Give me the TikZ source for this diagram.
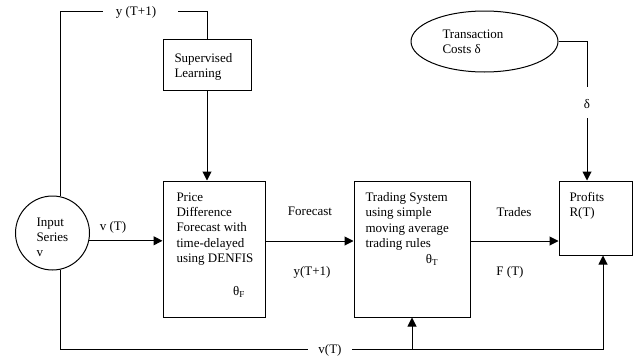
\documentclass[tikz,border=0pt]{standalone}
\usepackage{fontspec}
\setmainfont{Liberation Serif}
\usetikzlibrary{arrows.meta,shapes.geometric}
\begin{document}
\begin{tikzpicture}[x=1pt,y=-1pt,
  line width=1pt,
  box/.style={draw,rectangle,inner sep=0pt},
  txt/.style={inner sep=0pt,anchor=north west,align=left,font=\fontsize{13}{15.3}\selectfont},
  lbl/.style={inner sep=0pt,font=\fontsize{13}{15.3}\selectfont},
  arr/.style={-{Triangle[length=9pt,width=9pt]}}]
\useasboundingbox (0,0) rectangle (634,356);
% shapes
\node[draw,circle,minimum size=74pt,inner sep=0pt] (inp) at (52.5,233) {};
\node[box,minimum width=88pt,minimum height=51pt] (sup) at (207,64.5) {};
\node[box,minimum width=102pt,minimum height=136pt] (price) at (214,249) {};
\node[box,minimum width=116pt,minimum height=136pt] (trade) at (412,249) {};
\node[box,minimum width=73pt,minimum height=74pt] (prof) at (595.5,218) {};
\node[draw,ellipse,minimum width=147pt,minimum height=61pt,inner sep=0pt] (cost) at (484.5,41.5) {};
% texts
\node[txt] (tinp) at (36,217) {Input\\Series\\v};
\node[txt] (tsup) at (174,53) {Supervised\\Learning};
\node[txt] (tprice) at (176,192) {Price\\Difference\\Forecast with\\time-delayed\\using DENFIS};
\node[lbl] (thF) at (239,292) {θ\textsubscript{F}};
\node[txt] (ttrade) at (365,192) {Trading System\\using simple\\moving average\\trading rules};
\node[lbl] (thT) at (432,260) {θ\textsubscript{T}};
\node[txt] (tprof) at (569,192) {Profits\\R(T)};
\node[txt] (tcost) at (442,29) {Transaction\\Costs δ};
% labels
\node[lbl] (lytop) at (136,12) {y (T+1)};
\node[lbl] (lvt) at (113,227) {v (T)};
\node[lbl] (lfc) at (310,211) {Forecast};
\node[lbl] (lyt) at (312,272) {y(T+1)};
\node[lbl] (ltr) at (514,212) {Trades};
\node[lbl] (lft) at (510,272) {F (T)};
\node[lbl] (lvb) at (330,350) {v(T)};
\node[lbl] (ldel) at (587,104) {δ};
% coordinates
\coordinate (t1) at (103,11);
\coordinate (t2) at (178,11);
\coordinate (b1) at (308,349);
\coordinate (b2) at (352,349);
\coordinate (d1) at (587,87);
\coordinate (d2) at (587,118);
\coordinate (br) at (412,349);
% connectors
\draw (inp.77) |- (t1);
\draw (t2) -| (sup.north);
\draw[arr] (sup.south) -- (sup.south |- price.north);
\draw[arr] (inp.-12.5) -- (inp.-12.5 -| price.west);
\draw[arr] (price.east |- 0,241) -- (trade.west |- 0,241);
\draw[arr] (trade.east |- 0,241) -- (prof.west |- 0,241);
\draw (cost.east) -| (d1);
\draw[arr] (d2) -- (d2 |- prof.north);
\draw (inp.-77) |- (b1);
\draw[arr] (b2) -| (prof.south -| 603,0);
\draw[arr] (br) -- (trade.south);
\end{tikzpicture}
\end{document}
